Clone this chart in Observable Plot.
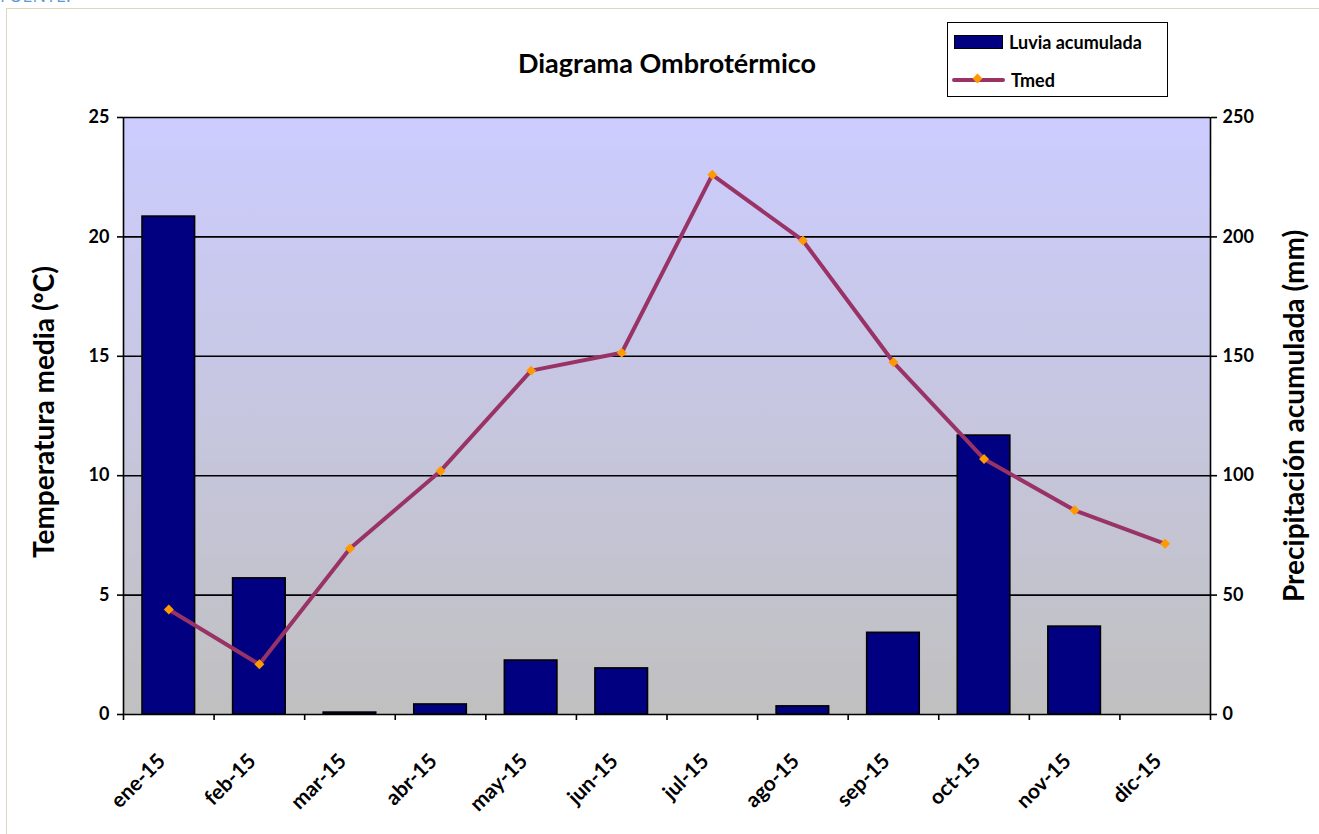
<!DOCTYPE html>
<html>
<head>
<meta charset="utf-8">
<script src="https://cdn.jsdelivr.net/npm/d3@7"></script>
<script src="https://cdn.jsdelivr.net/npm/@observablehq/plot@0.6"></script>
<style>
  html, body { margin: 0; padding: 0; background: #fff; }
  #wrap { position: relative; width: 1319px; height: 834px; overflow: hidden; font-family: Lato, "Liberation Sans", sans-serif; }
  #frameline { position: absolute; left: 6px; top: 8px; width: 1400px; height: 900px; border-top: 1.5px solid #ddd8bb; border-left: 1.5px solid #ddd8bb; }
  #fuente { position: absolute; left: 0px; top: -17px; font-size: 18px; color: #5b9bd5; font-family: "Open Sans", sans-serif; }
  #title { position: absolute; left: 0; width: 1334px; top: 46px; text-align: center; font-weight: bold; font-size: 27px; color: #000; }
  #legend { position: absolute; left: 947px; top: 22px; width: 219px; height: 73px; border: 1.5px solid #000; background: #fff; font-weight: bold; font-size: 18px; }
  .lg-row { position: absolute; left: 0; height: 24px; display: flex; align-items: center; }
  .lg-bar { width: 47px; height: 12px; background: #000080; border: 1.5px solid #000; margin-left: 6px; }
  .lg-line { position: relative; width: 53px; height: 4px; background: #993366; border-radius: 2px; margin-left: 4px; }
  .lg-dia { position: absolute; left: 22px; top: -3px; width: 7px; height: 7px; background: #ff9900; transform: rotate(45deg); }
  .lg-txt { margin-left: 6px; }
  #chart { position: absolute; left: 0; top: 0; }
</style>
</head>
<body>
<div id="wrap">
  <div id="frameline"></div>
  <div id="fuente">FUENTE:</div>
  <div id="chart"></div>
  <div id="title">Diagrama Ombrotérmico</div>
  <div id="legend">
    <div class="lg-row" style="top:7px"><div class="lg-bar"></div><div class="lg-txt">Luvia acumulada</div></div>
    <div class="lg-row" style="top:45px"><div class="lg-line"><div class="lg-dia"></div></div><div class="lg-txt">Tmed</div></div>
  </div>
</div>
<script>
const months = ["ene-15","feb-15","mar-15","abr-15","may-15","jun-15","jul-15","ago-15","sep-15","oct-15","nov-15","dic-15"];
const precipitacion = [208.5, 57, 0.8, 4.2, 22.6, 19.3, 0, 3.4, 34.2, 116.8, 36.8, 0];
const tmed = [4.4, 2.1, 6.95, 10.2, 14.4, 15.15, 22.6, 19.85, 14.75, 10.7, 8.55, 7.15];
const tempTicks = [0, 5, 10, 15, 20, 25];
const precipTicks = [0, 50, 100, 150, 200, 250];

const data = months.map((m, i) => ({i, m, p: precipitacion[i], t: tmed[i]}));
const ratio = precipTicks[precipTicks.length - 1] / tempTicks[tempTicks.length - 1];

const defsMark = () => {
  const defs = d3.create("svg:defs");
  const g = defs.append("linearGradient").attr("id", "bgGrad").attr("x1", 0).attr("y1", 0).attr("x2", 0).attr("y2", 1);
  g.append("stop").attr("offset", "0%").attr("stop-color", "#ccccff");
  g.append("stop").attr("offset", "100%").attr("stop-color", "#c0c0c0");
  return defs.node();
};

const chart = Plot.plot({
  width: 1319,
  height: 834,
  marginLeft: 123,
  marginRight: 109,
  marginTop: 117,
  marginBottom: 120,
  x: {type: "linear", domain: [0, months.length], axis: null},
  y: {domain: [0, 25], axis: null},
  style: {fontFamily: "Lato, 'Liberation Sans', sans-serif", fontWeight: "bold", color: "#000", background: "transparent", overflow: "visible"},
  marks: [
    defsMark,
    Plot.frame({fill: "url(#bgGrad)", stroke: null}),
    Plot.ruleY(tempTicks.slice(1), {stroke: "#000", strokeWidth: 1.6}),
    Plot.rectY(data, {x1: d => d.i + 0.21, x2: d => d.i + 0.79, y1: 0, y2: d => d.p / ratio, fill: "#000080", stroke: "#000", strokeWidth: 1.6}),
    Plot.ruleY([0], {stroke: "#000", strokeWidth: 1.6}),
    Plot.ruleX([0, months.length], {stroke: "#000", strokeWidth: 1.6}),
    Plot.axisY({ticks: tempTicks, tickSize: 6, tickPadding: 8, fontSize: 18, label: null, strokeWidth: 1.6}),
    Plot.axisY({anchor: "right", ticks: tempTicks, tickFormat: d => String(d * ratio), tickSize: 6, tickPadding: 6, fontSize: 18, label: null, strokeWidth: 1.6}),
    Plot.axisX({ticks: d3.range(months.length + 1), tickFormat: () => "", tickSize: 6, label: null, strokeWidth: 1.6}),
    Plot.text(data, {x: d => d.i + 0.5, y: 0, text: d => d.m, rotate: -45, textAnchor: "end", dx: -7, dy: 43, fontSize: 21}),
    Plot.line(data, {x: d => d.i + 0.5, y: "t", stroke: "#993366", strokeWidth: 4}),
    Plot.dot(data, {x: d => d.i + 0.5, y: "t", symbol: "diamond2", r: 4.5, fill: "#ff9900", stroke: null}),
    Plot.text(["Temperatura media (ºC)"], {frameAnchor: "left", textAnchor: "middle", dx: -78, dy: -4, rotate: -90, fontSize: 28}),
    Plot.text(["Precipitación acumulada (mm)"], {frameAnchor: "right", textAnchor: "middle", dx: 85, rotate: -90, fontSize: 28})
  ]
});
document.getElementById("chart").appendChild(chart);
</script>
</body>
</html>
